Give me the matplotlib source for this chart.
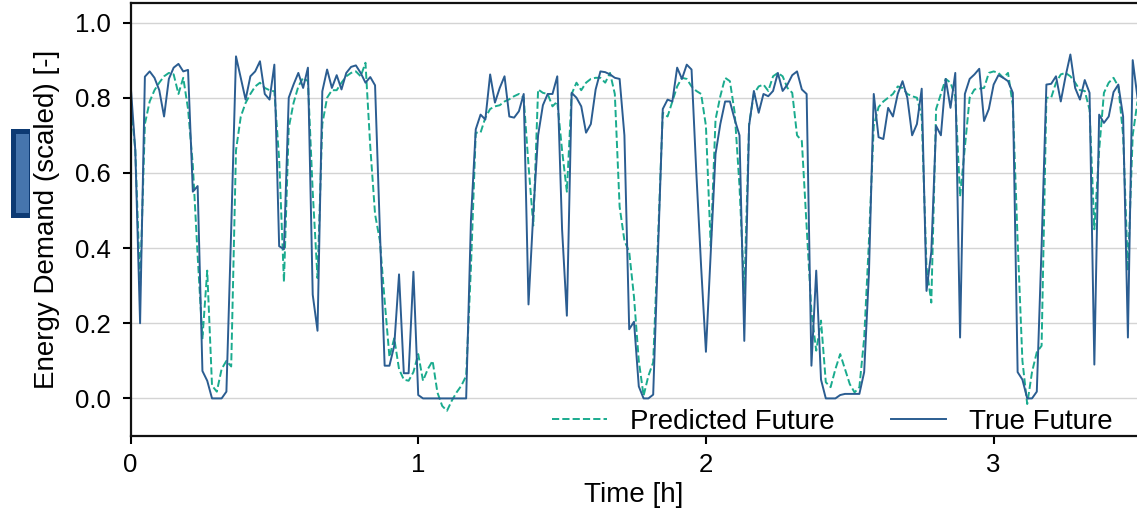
import numpy as np
import matplotlib
matplotlib.use("Agg")
import matplotlib.pyplot as plt
from matplotlib.patches import Rectangle

plt.rcParams['font.family'] = ['Liberation Sans', 'DejaVu Sans']

minutes = np.arange(211)
time_h = minutes / 60.0

true_future = [
    0.84, 0.66, 0.20, 0.856, 0.87, 0.853, 0.82, 0.75, 0.85, 0.88,
    0.89, 0.87, 0.874, 0.55, 0.565, 0.073, 0.047, 0.0, 0.0, 0.0,
    0.018, 0.45, 0.91, 0.853, 0.795, 0.857, 0.87, 0.897, 0.81, 0.795,
    0.888, 0.405, 0.397, 0.80, 0.835, 0.866, 0.826, 0.88, 0.276, 0.18,
    0.817, 0.875, 0.826, 0.86, 0.822, 0.866, 0.882, 0.886, 0.866, 0.84,
    0.855, 0.833, 0.45, 0.087, 0.087, 0.14, 0.33, 0.067, 0.067, 0.337,
    0.009, 0.0, 0.0, 0.0, 0.0, 0.0, 0.0, 0.0, 0.0, 0.0,
    0.0, 0.476, 0.716, 0.755, 0.742, 0.862, 0.787, 0.826, 0.857, 0.75,
    0.747, 0.764, 0.81, 0.25, 0.494, 0.70, 0.78, 0.81, 0.81, 0.857,
    0.45, 0.22, 0.813, 0.80, 0.777, 0.707, 0.73, 0.822, 0.87, 0.868,
    0.862, 0.853, 0.85, 0.70, 0.184, 0.204, 0.032, 0.0, 0.0, 0.01,
    0.39, 0.77, 0.795, 0.79, 0.88, 0.85, 0.888, 0.875, 0.60, 0.35,
    0.124, 0.39, 0.65, 0.73, 0.79, 0.79, 0.742, 0.70, 0.153, 0.725,
    0.818, 0.76, 0.81, 0.804, 0.818, 0.866, 0.818, 0.835, 0.86, 0.87,
    0.822, 0.81, 0.087, 0.34, 0.05, 0.0, 0.0, 0.0, 0.009, 0.012,
    0.012, 0.012, 0.012, 0.07, 0.335, 0.81, 0.695, 0.69, 0.773, 0.75,
    0.81, 0.844, 0.80, 0.70, 0.73, 0.824, 0.286, 0.39, 0.725, 0.70,
    0.85, 0.773, 0.866, 0.162, 0.81, 0.85, 0.862, 0.877, 0.738, 0.77,
    0.835, 0.86, 0.853, 0.844, 0.813, 0.07, 0.05, 0.0, 0.0, 0.018,
    0.405, 0.835, 0.837, 0.857, 0.79, 0.857, 0.915, 0.826, 0.795, 0.847,
    0.813, 0.09, 0.755, 0.733, 0.75, 0.815, 0.835, 0.75, 0.162, 0.90,
    0.80,
]

predicted_future = [
    0.80, 0.66, 0.30, 0.73, 0.79, 0.82, 0.84, 0.857, 0.866, 0.862,
    0.81, 0.853, 0.77, 0.62, 0.38, 0.16, 0.34, 0.034, 0.018, 0.078,
    0.10, 0.085, 0.66, 0.75, 0.786, 0.81, 0.83, 0.84, 0.826, 0.82,
    0.817, 0.636, 0.31, 0.72, 0.786, 0.83, 0.853, 0.844, 0.55, 0.32,
    0.73, 0.80, 0.82, 0.82, 0.84, 0.857, 0.866, 0.87, 0.857, 0.893,
    0.67, 0.49, 0.42, 0.26, 0.11, 0.16, 0.078, 0.05, 0.047, 0.07,
    0.118, 0.047, 0.078, 0.10, 0.016, -0.02, -0.033, -0.006, 0.016, 0.034,
    0.06, 0.35, 0.707, 0.707, 0.747, 0.77, 0.777, 0.78, 0.79, 0.796,
    0.804, 0.81, 0.80, 0.62, 0.46, 0.822, 0.813, 0.81, 0.777, 0.79,
    0.66, 0.55, 0.81, 0.84, 0.82, 0.84, 0.85, 0.853, 0.853, 0.84,
    0.866, 0.81, 0.51, 0.42, 0.39, 0.27, 0.10, 0.007, 0.06, 0.096,
    0.42, 0.76, 0.75, 0.79, 0.83, 0.853, 0.85, 0.83, 0.818, 0.81,
    0.725, 0.405, 0.742, 0.804, 0.853, 0.844, 0.76, 0.565, 0.28, 0.73,
    0.81, 0.83, 0.835, 0.818, 0.857, 0.866, 0.857, 0.826, 0.813, 0.70,
    0.685, 0.46, 0.23, 0.127, 0.207, 0.043, 0.03, 0.078, 0.118, 0.078,
    0.038, 0.016, 0.03, 0.16, 0.42, 0.725, 0.775, 0.79, 0.80, 0.81,
    0.83, 0.826, 0.81, 0.804, 0.80, 0.75, 0.35, 0.255, 0.77, 0.81,
    0.85, 0.84, 0.804, 0.537, 0.67, 0.80, 0.822, 0.824, 0.826, 0.866,
    0.87, 0.866, 0.853, 0.866, 0.78, 0.42, 0.10, -0.015, 0.07, 0.123,
    0.14, 0.80, 0.80, 0.84, 0.862, 0.866, 0.857, 0.84, 0.82, 0.818,
    0.768, 0.45, 0.66, 0.813, 0.84, 0.853, 0.83, 0.70, 0.34, 0.70,
    0.79,
]

x_ticks = [0, 1, 2, 3]
y_ticks = [0.0, 0.2, 0.4, 0.6, 0.8, 1.0]

W, H = 1137, 514
fig = plt.figure(figsize=(W / 100, H / 100), dpi=100)
ax = fig.add_axes([130.5 / W, 1 - 436 / H, (1137.5 - 130.5) / W, (436 - 3) / H])

ax.plot(time_h, predicted_future, linestyle='--', color='#1aab8e', lw=1.4,
        label='Predicted Future')
ax.plot(time_h, true_future, linestyle='-', color='#2b5d91', lw=1.4,
        label='True Future')

ax.set_xlim(0, 3.5)
ax.set_ylim(-0.1, 1.052)
ax.set_xticks(x_ticks)
ax.set_xticklabels([str(v) for v in x_ticks])
ax.set_yticks(y_ticks)
ax.set_yticklabels([f"{v:.1f}" for v in y_ticks])
ax.yaxis.grid(True, color='#d4d4d4', lw=1.0)
ax.set_axisbelow(True)
ax.tick_params(axis='both', labelsize=18.5, length=6, width=1.5, direction='out',
               colors='black')
ax.tick_params(axis='y', pad=8)
ax.tick_params(axis='x', pad=6)
for s in ['left', 'bottom', 'top']:
    ax.spines[s].set_linewidth(1.6)
    ax.spines[s].set_color('#111111')
ax.spines['right'].set_visible(False)

ax.set_xlabel('Time [h]', fontsize=20, labelpad=4)
ax.set_ylabel('Energy Demand (scaled) [-]', fontsize=20, labelpad=11)

leg = ax.legend(loc='center right', ncol=2, frameon=False, fontsize=20,
                handlelength=2.0, columnspacing=2.0, handletextpad=0.83,
                borderpad=0.4, borderaxespad=0.0,
                bbox_to_anchor=(0.9866, 0.033))

# stray blue marker at left edge of the figure
fig.patches.append(Rectangle((11 / W, 1 - 218 / H), 18.5 / W, 89 / H,
                             transform=fig.transFigure, facecolor='#0d3a73',
                             edgecolor='none', zorder=5))
fig.patches.append(Rectangle((16 / W, 1 - 213 / H), 13.5 / W, 79 / H,
                             transform=fig.transFigure, facecolor='#4675ad',
                             edgecolor='none', zorder=6))

fig.savefig('out.png', dpi=100)
